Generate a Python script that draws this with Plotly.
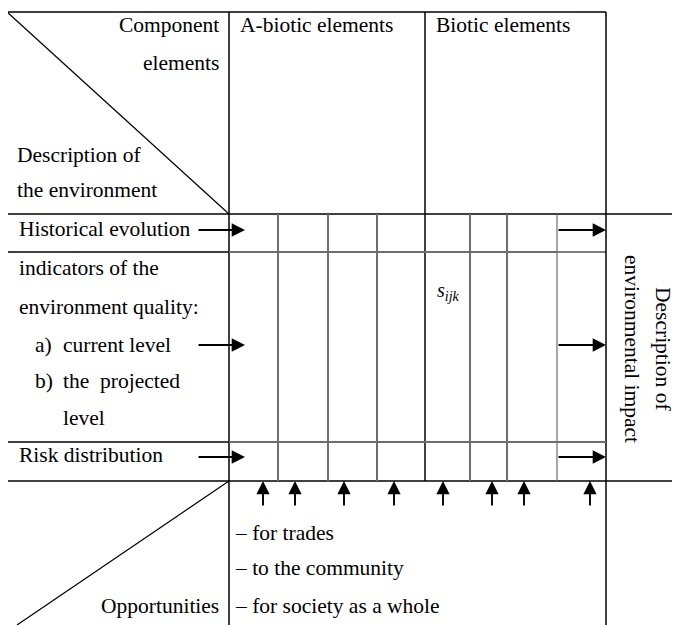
import plotly.graph_objects as go

W, H = 680, 625
OFF = 8  # default page body margin of the html page
FONT = "Liberation Serif"
FS = 21.5

# Grid structure (page pixel coordinates of the table)
col_bounds = [7, 229, 425, 606]            # left border, header split, biotic split, right edge
grid_cols = [278, 328, 377, 470, 507, 557]  # inner gray column lines
row_bounds = [12, 214, 252, 442, 481, 625]  # top, header bottom, rows..., bottom

# Header texts
header_labels = ["A-biotic elements", "Biotic elements"]
header_x = [240, 436]

# Row labels: (text, x, y)
row_labels = [
    ("Historical evolution", 19, 229),
    ("indicators of the", 19, 268),
    ("environment quality:", 19, 307),
    ("a)", 35, 345),
    ("current level", 63, 345),
    ("b)", 35, 381),
    ("the  projected", 63, 381),
    ("level", 63, 418),
    ("Risk distribution", 19, 455),
]

# Arrow rows (y of horizontal arrows)
arrow_rows_y = [230, 345, 457]
left_arrow_x = (197, 245)
right_arrow_x = (557, 606)

# Upward arrows below the grid
up_arrow_x = [263, 295, 344, 394, 443, 492, 524, 590]
up_arrow_y = (507, 481)

# Bottom list
bottom_items = ["– for trades", "– to the community", "– for society as a whole"]
bottom_y = [533, 568, 606]

# Right side rotated label lines: (text, x)
side_lines = [("Description of", 663), ("environmental impact", 632)]

fig = go.Figure()
fig.add_trace(go.Scatter(x=[OFF, W], y=[OFF, H], mode="markers",
                         marker=dict(opacity=0), hoverinfo="skip", showlegend=False))

shapes = []
BLACK = "#000000"
GRAY = "#6e6e6e"


def line(x0, y0, x1, y1, color=BLACK, width=1.5):
    shapes.append(dict(type="line", xref="x", yref="y", x0=x0, y0=y0, x1=x1, y1=y1,
                       line=dict(color=color, width=width)))


left, split, bsplit, right = col_bounds
top, hb, r1, r2, r3, bottom = row_bounds

line(left, top, right, top)
line(left, top, left, bottom)
line(split, top, split, bottom)
line(bsplit, top, bsplit, r3)
line(right, top, right, bottom)
line(left, hb, W, hb)
line(left, r1, split, r1)
line(split, r1, grid_cols[-1], r1, GRAY, 2)
line(grid_cols[-1], r1, right, r1, BLACK, 1.2)
line(left, r2, split, r2)
line(split, r2, right, r2, GRAY, 2)
line(left, r3, W, r3)
line(left, top, split, hb, BLACK, 1.2)
line(split, r3, 17, bottom, BLACK, 1.2)
for i, gx in enumerate(grid_cols):
    line(gx, hb, gx, r3, GRAY, 1.2 if i == len(grid_cols) - 1 else 2)

annotations = []


def text(t, x, y, xanchor="left", size=FS, **kw):
    annotations.append(dict(text=t, x=x, y=y, xref="x", yref="y", showarrow=False,
                            xanchor=xanchor, yanchor="middle", borderpad=0, borderwidth=0,
                            font=dict(family=FONT, size=size, color="black"), **kw))


text("Component", 219, 25, "right")
text("elements", 219, 63, "right")
text("Description of", 17, 155)
text("the environment", 17, 190)
for lab, hx in zip(header_labels, header_x):
    text(lab, hx, 25)
for t, x, y in row_labels:
    text(t, x, y)
for t, y in zip(bottom_items, bottom_y):
    text(t, 235, y)
text("Opportunities", 219, 606, "right")
text("<i>s</i><sub><i>ijk</i></sub>", 437, 291, size=20)
for t, sx in side_lines:
    text(t, sx, 349, "center", textangle=90)


def arrow(x0, y0, x1, y1):
    annotations.append(dict(x=x1, y=y1, ax=x0, ay=y0, xref="x", yref="y",
                            axref="x", ayref="y", text="", showarrow=True,
                            arrowhead=2, arrowsize=1.4, arrowwidth=1.9,
                            arrowcolor="black", standoff=0, startstandoff=0))


for ay in arrow_rows_y:
    arrow(left_arrow_x[0], ay, left_arrow_x[1], ay)
    arrow(right_arrow_x[0], ay, right_arrow_x[1], ay)
for ux in up_arrow_x:
    arrow(ux, up_arrow_y[0], ux, up_arrow_y[1])

fig.update_layout(
    width=W - OFF, height=H - OFF,
    margin=dict(l=0, r=0, t=0, b=0),
    paper_bgcolor="white", plot_bgcolor="white",
    font=dict(family=FONT),
    xaxis=dict(range=[OFF, W], visible=False, fixedrange=True),
    yaxis=dict(range=[H, OFF], visible=False, fixedrange=True),
    shapes=shapes, annotations=annotations, showlegend=False,
)

fig.write_html("out.html")
